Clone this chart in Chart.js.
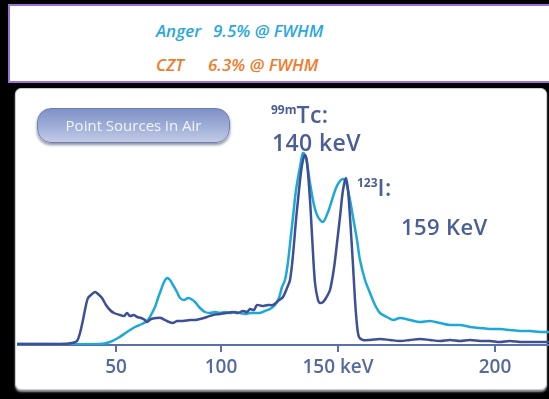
<!DOCTYPE html>
<html>
<head>
<meta charset="utf-8">
<script src="https://cdn.jsdelivr.net/npm/chart.js@4"></script>
<style>
  html, body { margin: 0; padding: 0; background: #000; }
  body { width: 549px; height: 399px; position: relative; overflow: hidden; font-family: "Open Sans", sans-serif; }
  #head { position: absolute; left: 8px; top: 4px; width: 545px; height: 75px; background: #fff; border: 2px solid #9a72cf; }
  #head div { position: absolute; font-style: italic; font-weight: 600; font-size: 17px; white-space: nowrap; }
  #panel { position: absolute; left: 15px; top: 88px; width: 530px; height: 300px; background: #fff; border: 1px solid #c9cbd0; border-radius: 6px; box-shadow: 0 2px 2px #9a9ca2; }
  #wrap { position: absolute; left: 17px; top: 89px; width: 532px; height: 310px; }
  .note { position: absolute; color: #4b5e96; font-weight: 600; white-space: nowrap; letter-spacing: 0.4px; }
  .note sup { font-size: 12px; font-weight: 700; vertical-align: 9px; letter-spacing: 0; }
  #btn { position: absolute; left: 37px; top: 108px; width: 191px; height: 33px; border-radius: 14px; border: 1px solid #6c7eb4;
         background: linear-gradient(#7e92c6, #a4b2da 60%, #c3cce6); box-shadow: 0 2px 3px #8a8fa0; color: #f1f4fb; font-size: 15px; line-height: 33px; text-align: center; }
</style>
</head>
<body>
<div id="head">
  <div style="left:146px;top:13px;color:#2aa8dd">Anger</div>
  <div style="left:203px;top:13px;color:#2aa8dd">9.5% @ FWHM</div>
  <div style="left:146px;top:47px;color:#f07b2c">CZT</div>
  <div style="left:198px;top:47px;color:#f07b2c">6.3% @ FWHM</div>
</div>
<div id="panel"></div>
<div id="wrap"><canvas id="spectrum" width="532" height="310"></canvas></div>
<div id="btn">Point Sources in Air</div>
<div class="note" style="left:271px;top:98px;font-size:23px"><sup>99m</sup>Tc:</div>
<div class="note" style="left:272px;top:126px;font-size:23px">140 keV</div>
<div class="note" style="left:357px;top:171px;font-size:23px"><sup>123</sup>I:</div>
<div class="note" style="left:401px;top:211px;font-size:22px">159 KeV</div>
<script>
// MCA channel positions of the energy ticks (calibration is not linear)
const tickChannels = [99, 204, 321, 478];
const tickLabels = ['50', '100', '150 keV', '200'];

// CZT spectrum (dark line)
const cztChannel = [0, 43, 55, 60, 63, 66, 69, 71, 74, 78, 81, 85, 89, 93, 97, 103, 107, 110, 113, 117,
  120, 124, 128, 130, 134, 140, 144, 148, 152, 156, 160, 166, 173, 178, 183, 190, 196, 203, 209, 216,
  221, 226, 230, 233, 237, 240, 245, 251, 256, 261, 266, 270, 273, 276, 279, 281, 284, 286, 288, 290,
  293, 295, 298, 301, 303, 306, 309, 313, 317, 320, 323, 326, 329, 331, 333, 336, 338, 340, 342, 346,
  353, 363, 373, 383, 393, 403, 413, 423, 433, 443, 453, 463, 473, 483, 493, 503, 513, 523, 532];
const cztCounts = [0, 0, 1, 3, 11, 24, 39, 46, 49, 52, 50, 46, 39, 34, 31, 29, 28, 31, 28, 29,
  27, 26, 24, 22, 25, 26, 26, 24, 22, 21, 23, 23, 24, 24, 25, 27, 29, 30, 31, 32,
  31, 33, 32, 35, 34, 39, 38, 39, 39, 43, 47, 56, 64, 89, 124, 144, 172, 184, 189, 182,
  144, 109, 61, 44, 41, 42, 46, 54, 76, 101, 127, 154, 166, 154, 127, 79, 44, 19, 7, 4,
  4, 5, 4, 3, 4, 5, 4, 3, 4, 3, 4, 3, 3, 2, 3, 2, 2, 2, 2];

// Anger camera spectrum (cyan line)
const angerChannel = [0, 83, 93, 101, 110, 118, 125, 130, 134, 138, 141, 144, 147, 150, 153, 156, 160, 163, 167, 171,
  174, 178, 183, 188, 193, 198, 203, 208, 213, 218, 223, 228, 233, 238, 243, 248, 253, 258, 262, 265,
  268, 271, 274, 276, 279, 283, 286, 289, 293, 297, 301, 306, 311, 315, 319, 323, 326, 329, 333, 336,
  340, 343, 348, 353, 358, 363, 370, 376, 383, 393, 403, 413, 423, 433, 443, 453, 463, 473, 483, 493,
  503, 513, 523, 532];
const angerCounts = [0, 0, 2, 6, 12, 17, 20, 23, 29, 37, 46, 54, 62, 66, 64, 59, 52, 46, 44, 46,
  45, 42, 36, 32, 31, 32, 31, 32, 31, 32, 31, 30, 31, 31, 31, 33, 35, 39, 46, 57,
  64, 82, 109, 127, 154, 177, 191, 186, 161, 139, 127, 122, 132, 144, 156, 163, 165, 162, 144, 127,
  104, 84, 64, 51, 39, 31, 27, 24, 26, 24, 22, 23, 21, 19, 19, 17, 16, 15, 15, 14,
  13, 13, 12, 12];

const axisColor = '#5a70a8';

new Chart(document.getElementById('spectrum'), {
  type: 'line',
  data: {
    datasets: [{
      label: 'CZT',
      data: cztChannel.map((c, i) => ({x: c, y: cztCounts[i]})),
      borderColor: '#3d4f95',
      borderWidth: 2.5,
      pointRadius: 0,
      tension: 0.3
    }, {
      label: 'Anger',
      data: angerChannel.map((c, i) => ({x: c, y: angerCounts[i]})),
      borderColor: '#1ea8da',
      borderWidth: 2.5,
      pointRadius: 0,
      tension: 0.3
    }]
  },
  options: {
    responsive: false,
    animation: false,
    maintainAspectRatio: false,
    layout: { padding: 0 },
    plugins: { legend: { display: false }, tooltip: { enabled: false } },
    scales: {
      x: {
        type: 'linear',
        min: 0,
        max: 532,
        afterBuildTicks: (scale) => { scale.ticks = tickChannels.map(v => ({value: v})); },
        afterFit: (scale) => { scale.height = 54; },
        grid: { drawOnChartArea: false, drawTicks: true, tickLength: 7, color: axisColor, lineWidth: 2 },
        border: { display: true, color: axisColor, width: 2 },
        ticks: {
          autoSkip: false,
          maxRotation: 0,
          padding: 4,
          color: '#566a9c',
          font: { family: 'Open Sans', size: 19, weight: '600' },
          callback: (v) => tickLabels[tickChannels.indexOf(v)]
        }
      },
      y: {
        display: false,
        min: -1,
        max: 255
      }
    }
  }
});
</script>
</body>
</html>
